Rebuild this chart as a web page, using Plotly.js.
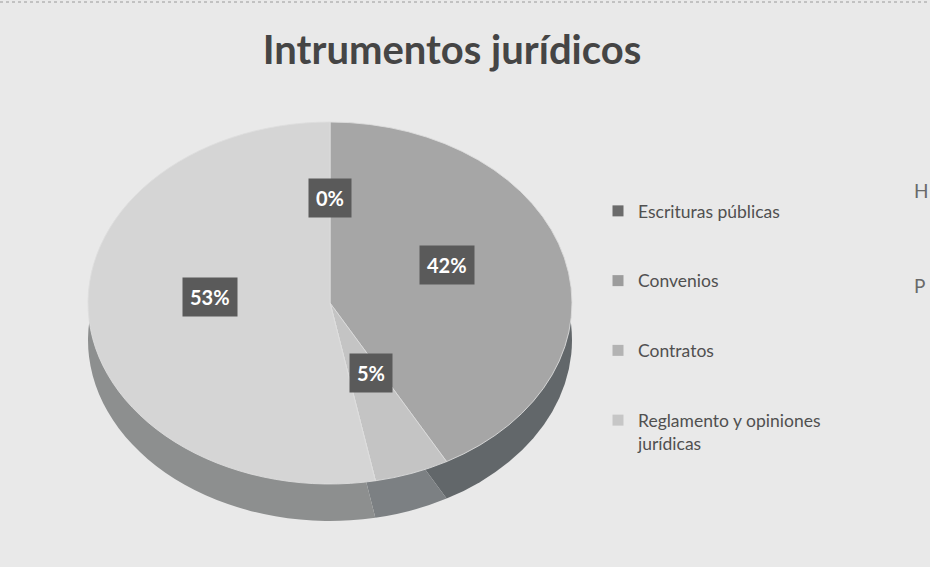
<!DOCTYPE html>
<html>
<head>
<meta charset="utf-8">
<script src="https://cdn.plot.ly/plotly-3.0.1.min.js"></script>
<style>
  html, body { margin: 0; padding: 0; width: 930px; height: 567px; overflow: hidden; background: #e9e9e9; }
  #pie { position: absolute; left: 0; top: 0; width: 930px; height: 700px; }
  #overlay { position: absolute; left: 0; top: 0; width: 930px; height: 567px; }
</style>
</head>
<body>
<div id="pie"></div>
<div id="overlay"></div>
<script>
// ---- data ----
const categories = ["Escrituras públicas", "Convenios", "Contratos", "Reglamento y opiniones jurídicas"];
const legendLabels = ["Escrituras públicas", "Convenios", "Contratos", "Reglamento y opiniones<br>jurídicas"];
const values = [42, 5, 0, 53];
const chartTitle = "Intrumentos jurídicos";

// ---- styles ----
const topColors = ["#a6a6a6", "#c4c4c4", "#cccccc", "#d5d5d5"];
const sideColors = ["#62676a", "#7c8083", "#8e8e8e", "#8d8f8f"];
const legendColors = ["#6b6b6b", "#9c9c9c", "#b3b3b3", "#c6c6c6"];
const FONT = "Lato, 'Open Sans', sans-serif";

// ---- geometry (pixels in the 930x567 page) ----
const W = 930, H = 567, PIE_DIV_H = 700;
const CX = 330, CY = 303;          // centre of the pie's top face
const RX = 242, RY = 181;          // semi-axes of the elliptical top face
const DEPTH = 37;                  // visible thickness of the pie
const SY = RY / RX;                // vertical squash applied to the pie layer

// pie layer: draw a circle of radius RX centred at (CX, CY) and squash it vertically
const pieDiv = document.getElementById('pie');
pieDiv.style.transformOrigin = CX + 'px ' + CY + 'px';
pieDiv.style.transform = 'scaleY(' + SY + ')';

function domainFor(offsetPx) {
  const top = CY - RX + offsetPx, bottom = CY + RX + offsetPx;
  return { x: [(CX - RX) / W, (CX + RX) / W], y: [1 - bottom / PIE_DIV_H, 1 - top / PIE_DIV_H] };
}

const common = {
  type: 'pie', values: values, labels: categories, sort: false,
  direction: 'clockwise', rotation: 0, textinfo: 'none', hoverinfo: 'skip', showlegend: false
};
const sidePie = Object.assign({}, common, {
  domain: domainFor(DEPTH / SY),
  marker: { colors: sideColors, line: { color: '#6a6a6a', width: 0 } }
});
const topPie = Object.assign({}, common, {
  domain: domainFor(0),
  marker: { colors: topColors, line: { color: '#dedede', width: 1 } }
});

Plotly.newPlot(pieDiv, [sidePie, topPie], {
  width: W, height: PIE_DIV_H, margin: { l: 0, r: 0, t: 0, b: 0 },
  paper_bgcolor: 'rgba(0,0,0,0)', showlegend: false, hovermode: false
}, { staticPlot: true });

// ---- overlay: title, legend, percentage labels ----
const total = values.reduce((a, b) => a + b, 0);
const LABEL_R = 0.5, LABEL_DY = -15;
let acc = 0;
const labelAnnotations = values.map((v, i) => {
  const frac = v / total;
  const mid = acc + frac / 2;
  acc += frac;
  const ang = v === 0 ? 0 : 2 * Math.PI * mid;   // empty slice: label sits at the start line
  const px = CX + LABEL_R * RX * Math.sin(ang);
  const py = CY - LABEL_R * RY * Math.cos(ang) + LABEL_DY;
  return {
    xref: 'paper', yref: 'paper', x: px / W, y: 1 - py / H,
    xanchor: 'center', yanchor: 'middle', showarrow: false,
    text: Math.round(frac * 100) + '%',
    font: { family: FONT, size: 20, color: '#ffffff', weight: 'bold' },
    bgcolor: '#5a5a5a', borderpad: 7
  };
});

const legendTraces = categories.map((c, i) => ({
  type: 'scatter', mode: 'markers', x: [null], y: [null],
  name: legendLabels[i], legendgroup: 'g' + i, showlegend: true,
  marker: { symbol: 'square', size: 11, color: legendColors[i] },
  hoverinfo: 'skip'
}));

const edgeText = [
  { text: 'H', y: 190 },
  { text: 'P', y: 285 }
].map(t => ({
  xref: 'paper', yref: 'paper', x: 912 / W, y: 1 - t.y / H, xanchor: 'left', yanchor: 'middle',
  showarrow: false, text: t.text, font: { family: FONT, size: 19, color: '#6a6a6a' }
}));

Plotly.newPlot('overlay', legendTraces, {
  width: W, height: H, margin: { l: 0, r: 0, t: 0, b: 0 },
  paper_bgcolor: 'rgba(0,0,0,0)', plot_bgcolor: 'rgba(0,0,0,0)',
  xaxis: { visible: false }, yaxis: { visible: false },
  hovermode: false,
  title: {
    text: chartTitle, x: 452 / W, xanchor: 'center', y: 1 - 50 / H, yanchor: 'middle',
    font: { family: FONT, size: 40, color: '#454545', weight: 'bold' }
  },
  showlegend: true,
  legend: {
    x: 598 / W, xanchor: 'left', y: 1 - 193 / H, yanchor: 'top',
    font: { family: FONT, size: 17.5, color: '#505050' },
    tracegroupgap: 44, valign: 'top', bgcolor: 'rgba(0,0,0,0)', itemclick: false, itemdoubleclick: false
  },
  annotations: labelAnnotations.concat(edgeText),
  shapes: [{
    type: 'line', xref: 'paper', yref: 'paper', x0: 0, x1: 1, y0: 1 - 2 / H, y1: 1 - 2 / H,
    line: { color: '#9a9a9a', width: 1, dash: 'dot' }
  }]
}, { staticPlot: true });
</script>
</body>
</html>
